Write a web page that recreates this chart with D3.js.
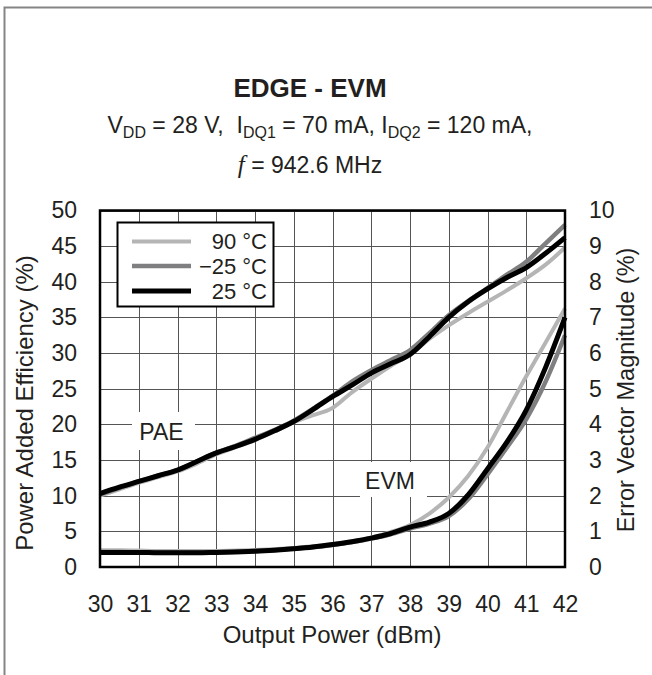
<!DOCTYPE html>
<html><head><meta charset="utf-8">
<script src="https://cdn.jsdelivr.net/npm/d3@7"></script>
<style>
body{margin:0;background:#fff}
svg{display:block}
text{font-family:"Liberation Sans",Arial,Helvetica,sans-serif;fill:#231f20}
</style>
</head><body>
<svg id="c" width="652" height="675"></svg>
<script>
// ---------- data ----------
const outputPower = [30,30.5,31,31.5,32,32.5,33,33.5,34,34.5,35,35.5,36,36.5,37,37.5,38,38.5,39,39.5,40,40.5,41,41.5,42];
const pae90  = [10.0,10.9,11.8,12.6,13.4,14.5,15.8,16.8,17.8,19.0,20.3,21.3,22.3,24.5,26.4,28.2,29.8,32.0,33.9,35.6,37.2,38.8,40.5,42.4,44.8];
const paeM25 = [10.2,11.1,12.0,12.8,13.6,14.8,16.0,17.0,18.1,19.2,20.5,22.2,24.0,26.0,27.6,29.0,30.4,32.8,35.3,37.3,39.1,41.0,42.8,45.4,48.0];
const pae25  = [10.3,11.2,12.0,12.8,13.6,14.8,16.0,16.9,17.9,19.1,20.4,22.1,23.9,25.5,27.2,28.5,29.8,32.3,35.0,37.2,39.0,40.6,42.0,44.0,46.2];
const evm90  = [0.47,0.47,0.46,0.45,0.45,0.45,0.45,0.46,0.48,0.50,0.53,0.58,0.64,0.72,0.83,0.98,1.18,1.50,1.95,2.55,3.35,4.35,5.35,6.30,7.25];
const evmM25 = [0.42,0.42,0.41,0.41,0.41,0.41,0.42,0.43,0.45,0.48,0.52,0.56,0.62,0.70,0.80,0.92,1.08,1.22,1.43,1.90,2.60,3.35,4.15,5.20,6.50];
const evm25  = [0.41,0.41,0.41,0.40,0.40,0.40,0.41,0.42,0.44,0.47,0.51,0.56,0.63,0.71,0.81,0.94,1.12,1.26,1.50,2.02,2.75,3.50,4.40,5.60,7.00];
const xTicks   = [30,31,32,33,34,35,36,37,38,39,40,41,42];
const paeTicks = [0,5,10,15,20,25,30,35,40,45,50];
const evmTicks = [0,1,2,3,4,5,6,7,8,9,10];
const seriesNames  = ["90 °C","\u221225 °C","25 °C"];
const seriesColors = ["#b5b5b6","#7f7f81","#000000"];
const seriesWidths = [4,4.5,5];

// ---------- layout ----------
const svg = d3.select("#c");
const L = 100, R = 565, T = 210.5, B = 567;
const x  = d3.scaleLinear().domain([30,42]).range([L,R]);
const yL = d3.scaleLinear().domain([0,50]).range([B,T]);
const yR = d3.scaleLinear().domain([0,10]).range([B,T]);

// outer frame
svg.append("path").attr("d","M4.5,680 V7.5 H660").attr("fill","none")
  .attr("stroke","#858585").attr("stroke-width",2);

// title
svg.append("text").attr("x",310).attr("y",97).attr("text-anchor","middle")
  .style("font-size","26px").style("font-weight","bold").text("EDGE - EVM");

const sub = svg.append("text").attr("x",320).attr("y",133).attr("text-anchor","middle")
  .style("font-size","23px").attr("xml:space","preserve").style("white-space","pre");
sub.append("tspan").text("V");
sub.append("tspan").attr("dy",5).style("font-size","16px").text("DD");
sub.append("tspan").attr("dy",-5).text(" = 28 V,  I");
sub.append("tspan").attr("dy",5).style("font-size","16px").text("DQ1");
sub.append("tspan").attr("dy",-5).text(" = 70 mA, I");
sub.append("tspan").attr("dy",5).style("font-size","16px").text("DQ2");
sub.append("tspan").attr("dy",-5).text(" = 120 mA,");

const l2 = svg.append("text").attr("x",310).attr("y",173).attr("text-anchor","middle")
  .style("font-size","23px");
l2.append("tspan").style("font-family","'Liberation Serif','Times New Roman',serif")
  .style("font-style","italic").style("font-size","25px").text("f");
l2.append("tspan").text(" = 942.6 MHz");

// grid
const g = svg.append("g");
g.selectAll("line.v").data(xTicks).enter().append("line")
  .attr("x1",d=>Math.round(x(d))+0.5).attr("x2",d=>Math.round(x(d))+0.5)
  .attr("y1",T).attr("y2",B).attr("stroke","#555").attr("stroke-width",1);
g.selectAll("line.h").data(paeTicks).enter().append("line")
  .attr("y1",d=>Math.round(yL(d))+0.5).attr("y2",d=>Math.round(yL(d))+0.5)
  .attr("x1",L).attr("x2",R).attr("stroke","#555").attr("stroke-width",1);

// in-plot labels with white background
function boxLabel(txt, bx, by, bw, bh, tx, ty){
  svg.append("rect").attr("x",bx).attr("y",by).attr("width",bw).attr("height",bh).attr("fill","#fff");
  svg.append("text").attr("x",tx).attr("y",ty).attr("text-anchor","middle")
    .style("font-size","23px").text(txt);
}
boxLabel("PAE", 132, 412, 63, 38, 161.5, 440);
boxLabel("EVM", 360, 462, 67, 35, 390, 489);

// curves
const paeSeries = [pae90, paeM25, pae25];
const evmSeries = [evm90, evmM25, evm25];
const lineL = d3.line().x((d,i)=>x(outputPower[i])).y(d=>yL(d)).curve(d3.curveMonotoneX);
const lineR = d3.line().x((d,i)=>x(outputPower[i])).y(d=>yR(d)).curve(d3.curveMonotoneX);
const cg = svg.append("g");
[0,1,2].forEach(k=>{
  cg.append("path").attr("d",lineL(paeSeries[k])).attr("fill","none")
    .attr("stroke",seriesColors[k]).attr("stroke-width",seriesWidths[k]).attr("stroke-linejoin","round");
  cg.append("path").attr("d",lineR(evmSeries[k])).attr("fill","none")
    .attr("stroke",seriesColors[k]).attr("stroke-width",seriesWidths[k]).attr("stroke-linejoin","round");
});

// plot border
svg.append("rect").attr("x",L).attr("y",T).attr("width",R-L).attr("height",B-T)
  .attr("fill","none").attr("stroke","#000").attr("stroke-width",2.5);

// axes
const axL = svg.append("g").attr("transform",`translate(${L},0)`)
  .call(d3.axisLeft(yL).tickValues(paeTicks).tickSize(0).tickPadding(23));
const axR = svg.append("g").attr("transform",`translate(${R},0)`)
  .call(d3.axisRight(yR).tickValues(evmTicks).tickSize(0).tickPadding(24));
const axB = svg.append("g").attr("transform",`translate(0,${B})`)
  .call(d3.axisBottom(x).tickValues(xTicks).tickSize(0).tickPadding(29).tickFormat(d3.format("d")));
[axL,axR,axB].forEach(a=>{
  a.select(".domain").remove();
  a.selectAll("text").style("font-size","23px").attr("fill","#231f20")
    .style("font-family","'Liberation Sans',Arial,sans-serif");
});

// axis titles
svg.append("text").attr("x",332).attr("y",643).attr("text-anchor","middle")
  .style("font-size","24px").text("Output Power (dBm)");
svg.append("text").attr("transform","translate(33,403) rotate(-90)").attr("text-anchor","middle")
  .style("font-size","24px").text("Power Added Efficiency (%)");
svg.append("text").attr("transform","translate(634,390) rotate(-90)").attr("text-anchor","middle")
  .style("font-size","23.5px").text("Error Vector Magnitude (%)");

// legend
const lg = svg.append("g");
lg.append("rect").attr("x",117.5).attr("y",222.5).attr("width",156).attr("height",84)
  .attr("fill","#fff").attr("stroke","#000").attr("stroke-width",2);
const rowsY = [241.5,266,291];
seriesNames.forEach((n,k)=>{
  lg.append("line").attr("x1",132).attr("x2",191).attr("y1",rowsY[k]).attr("y2",rowsY[k])
    .attr("stroke",seriesColors[k]).attr("stroke-width",seriesWidths[k]);
  lg.append("text").attr("x",267).attr("y",rowsY[k]+7.5).attr("text-anchor","end")
    .style("font-size","22px").text(n);
});
</script>
</body></html>
